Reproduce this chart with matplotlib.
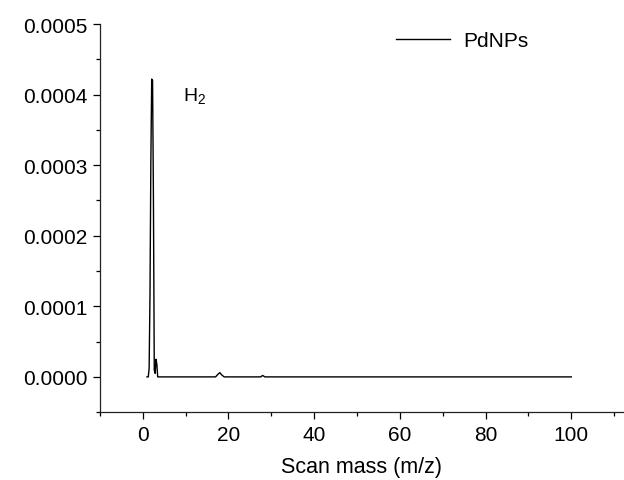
import matplotlib
matplotlib.use('Agg')
import matplotlib.pyplot as plt
from matplotlib.ticker import MultipleLocator, FormatStrFormatter

plt.rcParams['font.family'] = ['Liberation Sans', 'DejaVu Sans']
plt.rcParams['mathtext.fontset'] = 'custom'
plt.rcParams['mathtext.rm'] = 'Liberation Sans'

# mass spectrum
mz = [1.0, 1.3, 1.5, 1.7, 1.9, 2.1, 2.3, 2.5, 2.7, 2.9, 3.1, 3.3, 3.5, 4.0,
      17.0, 17.6, 18.0, 18.4, 19.0, 27.5, 28.0, 28.5, 100.0]
intensity = [0.0, 0.0, 0.000012, 0.000116, 0.000304, 0.000422, 0.000420,
             0.000256, 0.000010, 0.000005, 0.000025, 0.000018, 0.0, 0.0,
             0.0, 0.000004, 0.000006, 0.000003, 0.0, 0.0, 0.000002, 0.0, 0.0]

fig = plt.figure(figsize=(6.24, 4.81), dpi=100)
ax = fig.add_axes([0.160, 0.141, 0.838, 0.807])

ax.plot(mz, intensity, color='black', linewidth=1.0, label='PdNPs')

ax.set_xlim(-10, 112)
ax.set_ylim(-0.00005, 0.0005)
ax.xaxis.set_major_locator(MultipleLocator(20))
ax.xaxis.set_minor_locator(MultipleLocator(10))
ax.yaxis.set_major_locator(MultipleLocator(0.0001))
ax.yaxis.set_minor_locator(MultipleLocator(0.00005))
ax.yaxis.set_major_formatter(FormatStrFormatter('%.4f'))
ax.set_yticks([0, 0.0001, 0.0002, 0.0003, 0.0004, 0.0005])

for s in ['top', 'right']:
    ax.spines[s].set_visible(False)
for s in ['left', 'bottom']:
    ax.spines[s].set_linewidth(0.9)
    ax.spines[s].set_color('#222222')

ax.tick_params(which='major', direction='out', length=5, width=0.9,
               labelsize=15, pad=4)
ax.tick_params(which='minor', direction='out', length=3, width=0.9)

ax.set_xlabel('Scan mass (m/z)', fontsize=15.5, labelpad=9)

ax.text(9.3, 0.0004, r'$\mathregular{H_2}$', fontsize=14, va='center')

ax.legend(loc='upper right', frameon=False, fontsize=15,
          handlelength=2.6, handletextpad=0.6, bbox_to_anchor=(0.855, 1.03))

fig.savefig('out.png', dpi=100)
